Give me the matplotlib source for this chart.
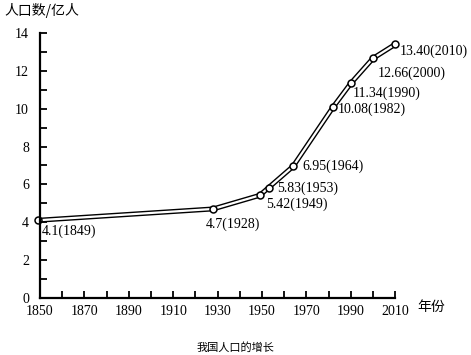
import matplotlib.pyplot as plt
from matplotlib.ticker import MultipleLocator

# Population data (hundred millions)
years = [1849, 1928, 1949, 1953, 1964, 1982, 1990, 2000, 2010]
population = [4.1, 4.7, 5.42, 5.83, 6.95, 10.08, 11.34, 12.66, 13.40]
point_labels = ['4.1(1849)', '4.7(1928)', '5.42(1949)', '5.83(1953)', '6.95(1964)',
                '10.08(1982)', '11.34(1990)', '12.66(2000)', '13.40(2010)']
# label offsets in pixels (dx, dy)
label_offsets = [(4, -11), (-7, -15), (6, -9), (8, -1), (9, 0),
                 (5, -2), (2, -10), (5, -15), (5, -7)]

x_ticks = list(range(1850, 2011, 20))
y_ticks = list(range(0, 15, 2))

serif = ['Liberation Serif', 'DejaVu Serif']
cjk = ['Noto Sans CJK SC', 'DejaVu Sans']

fig = plt.figure(figsize=(4.71, 3.55), dpi=100)
ax = fig.add_axes([0.085, 0.161, 0.754, 0.746])

# double line: thick black with white inside
ax.plot(years, population, color='black', lw=3.6, solid_capstyle='round', clip_on=False)
ax.plot(years, population, color='white', lw=1.6, solid_capstyle='round', clip_on=False)
ax.plot(years, population, 'o', ms=5, mfc='white', mec='black', mew=1.1, clip_on=False)

for x, y, lab, (dx, dy) in zip(years, population, point_labels, label_offsets):
    ax.annotate(lab, (x, y), xytext=(dx, dy), textcoords='offset pixels',
                ha='left', va='center', fontsize=10, family=serif,
                annotation_clip=False)

ax.set_xlim(1850, 2010)
ax.set_ylim(0, 14)
ax.set_xticks(x_ticks)
ax.set_yticks(y_ticks)
ax.xaxis.set_minor_locator(MultipleLocator(10))
ax.yaxis.set_minor_locator(MultipleLocator(1))
ax.tick_params(which='both', direction='in', length=5, width=1.3)
ax.tick_params(axis='x', pad=5)
ax.tick_params(axis='y', pad=8)
for lab in ax.get_xticklabels() + ax.get_yticklabels():
    lab.set_family(serif)
    lab.set_fontsize(10)

for s in ['top', 'right']:
    ax.spines[s].set_visible(False)
for s in ['left', 'bottom']:
    ax.spines[s].set_linewidth(1.6)

fig.text(0.01, 0.97, '人口数/亿人', family=cjk, fontsize=10, va='center', ha='left')
fig.text(0.885, 0.135, '年份', family=cjk, fontsize=10, va='center', ha='left')
fig.text(0.5, 0.02, '我国人口的增长', family=cjk, fontsize=8, va='center', ha='center')

fig.savefig('out.png', dpi=100)
